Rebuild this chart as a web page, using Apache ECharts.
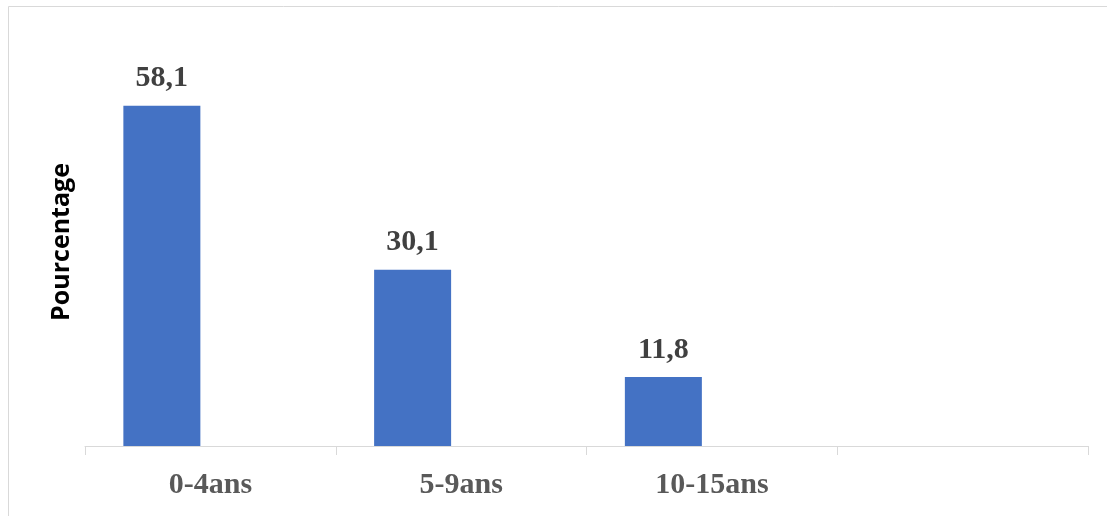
<!DOCTYPE html>
<html>
<head>
<meta charset="utf-8">
<script src="https://cdn.jsdelivr.net/npm/echarts@6/dist/echarts.min.js"></script>
<style>
  html, body { margin: 0; padding: 0; background: #ffffff; }
  #chart { width: 1107px; height: 516px; }
</style>
</head>
<body>
<div id="chart"></div>
<script>
// Age groups (the fourth slot is left empty)
const categories = ['0-4ans', '5-9ans', '10-15ans', ''];
// Share of cases per age group, in percent
const pourcentages = [58.1, 30.1, 11.8, null];
// Placeholder second series (no values) that shifts bars left in each slot
const serieVide = [null, null, null, null];

const chart = echarts.init(document.getElementById('chart'));

const fmt = v => (v == null ? '' : v.toFixed(1).replace('.', ','));

chart.setOption({
  animation: false,
  backgroundColor: '#ffffff',
  graphic: [{
    type: 'rect',
    shape: { x: 8.5, y: 6.5, width: 1200, height: 600 },
    style: { fill: 'none', stroke: '#d9d9d9', lineWidth: 1 },
    silent: true,
    z: -10
  }, {
    type: 'text',
    x: 62, y: 242,
    rotation: Math.PI / 2,
    style: {
      text: 'Pourcentage',
      font: 'bold 25px "Open Sans", sans-serif',
      fill: '#000000',
      align: 'center',
      verticalAlign: 'middle'
    }
  }],
  grid: { left: 85, right: 19, top: 36, bottom: 70, containLabel: false },
  xAxis: {
    type: 'category',
    data: categories,
    boundaryGap: true,
    axisLine: { show: true, lineStyle: { color: '#d9d9d9', width: 1 } },
    axisTick: { show: true, length: 9, lineStyle: { color: '#d9d9d9', width: 1 } },
    axisLabel: {
      color: '#595959',
      fontFamily: '"Liberation Serif", "Times New Roman", serif',
      fontWeight: 'bold',
      fontSize: 30,
      margin: 24
    }
  },
  yAxis: {
    type: 'value',
    min: 0,
    max: 70,
    show: false,
    splitLine: { show: false }
  },
  series: [{
    type: 'bar',
    data: pourcentages,
    barWidth: 77,
    barGap: '26%',
    itemStyle: { color: '#4472c4' },
    label: {
      show: true,
      position: 'top',
      distance: 12,
      color: '#404040',
      fontFamily: '"Liberation Serif", "Times New Roman", serif',
      fontWeight: 'bold',
      fontSize: 30,
      formatter: p => fmt(p.value)
    }
  }, {
    type: 'bar',
    data: serieVide,
    barWidth: 77,
    barGap: '26%',
    itemStyle: { color: '#ed7d31' }
  }]
});
</script>
</body>
</html>
